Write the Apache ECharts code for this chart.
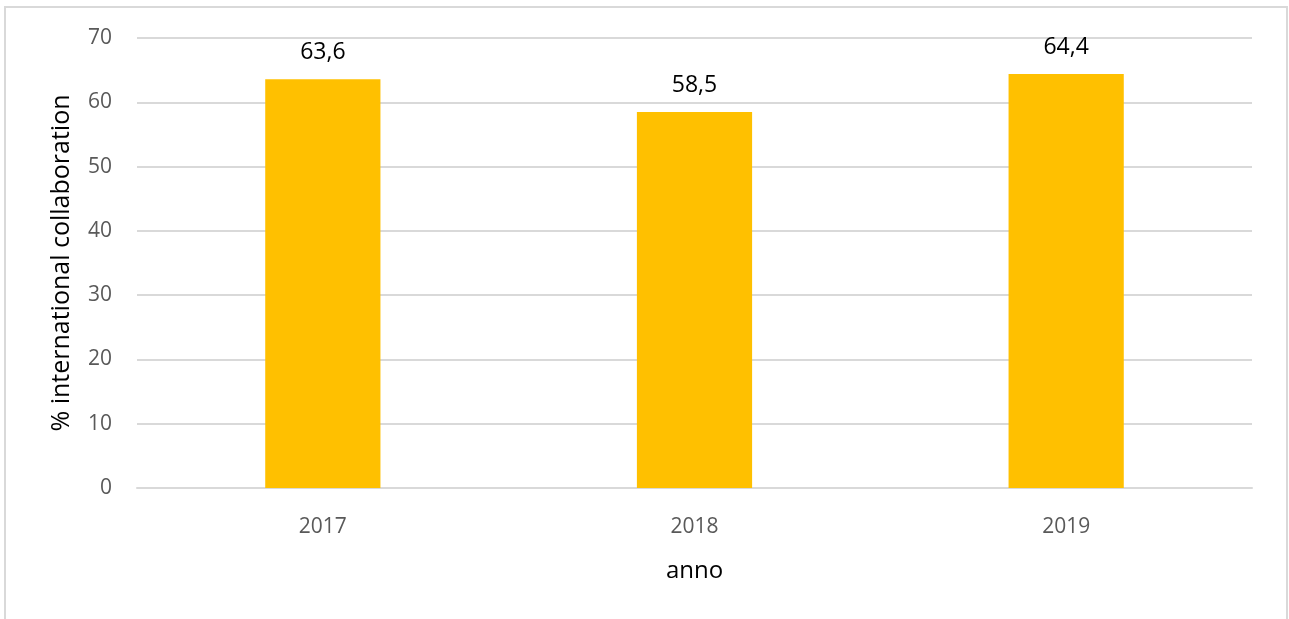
<!DOCTYPE html>
<html>
<head>
<meta charset="utf-8">
<script src="https://cdn.jsdelivr.net/npm/echarts@6/dist/echarts.min.js"></script>
<style>
  html, body { margin: 0; padding: 0; background: #fff; }
  #chart { width: 1289px; height: 619px; }
</style>
</head>
<body>
<div id="chart"></div>
<script>
// Share of publications with international collaboration, per year
const years = ['2017', '2018', '2019'];
const collaborationPct = [63.6, 58.5, 64.4];
const yTicks = [0, 10, 20, 30, 40, 50, 60, 70];

const FONT = '"Open Sans", "Noto Sans", sans-serif';
const chart = echarts.init(document.getElementById('chart'));

chart.setOption({
  animation: false,
  backgroundColor: '#ffffff',
  graphic: [{
    type: 'rect',
    shape: { x: 5, y: 7, width: 1282, height: 640 },
    style: { fill: 'none', stroke: '#d9d9d9', lineWidth: 2 },
    silent: true,
    z: -1
  }],
  grid: { left: 137, right: 37, top: 38, bottom: 131 },
  xAxis: {
    type: 'category',
    data: years,
    name: 'anno',
    nameLocation: 'middle',
    nameGap: 71,
    nameTextStyle: { fontFamily: FONT, fontSize: 24, color: '#000' },
    axisLine: { show: true, lineStyle: { color: '#d9d9d9', width: 2 } },
    axisTick: { show: false },
    axisLabel: { fontFamily: FONT, fontSize: 21, color: '#595959', margin: 29 }
  },
  yAxis: {
    type: 'value',
    min: yTicks[0],
    max: yTicks[yTicks.length - 1],
    interval: 10,
    name: '% international collaboration',
    nameLocation: 'middle',
    nameGap: 63,
    nameTextStyle: { fontFamily: FONT, fontSize: 25, color: '#000' },
    axisLine: { show: false },
    axisTick: { show: false },
    axisLabel: { fontFamily: FONT, fontSize: 21, color: '#595959', margin: 25 },
    splitLine: { lineStyle: { color: '#d9d9d9', width: 2 } }
  },
  series: [{
    type: 'bar',
    data: collaborationPct,
    barWidth: '31%',
    itemStyle: { color: '#ffc000' },
    label: {
      show: true,
      position: 'top',
      distance: 15,
      fontFamily: FONT,
      fontSize: 23,
      color: '#000',
      formatter: p => String(p.value).replace('.', ',')
    }
  }]
});
</script>
</body>
</html>
